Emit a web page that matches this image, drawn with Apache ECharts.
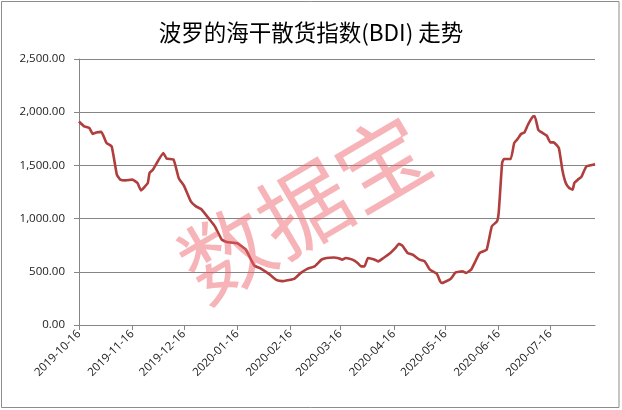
<!DOCTYPE html>
<html>
<head>
<meta charset="utf-8">
<script src="https://cdn.jsdelivr.net/npm/echarts@6/dist/echarts.min.js"></script>
<style>
html,body{margin:0;padding:0;background:#fff;}
#c{width:622px;height:410px;}
</style>
</head>
<body>
<div id="c"></div>
<script>
const startDate = '2019-10-16';
const endDate = '2020-08-11';
const yTicks = [0, 500, 1000, 1500, 2000, 2500];
const pointDates = [
'2019-10-16','2019-10-19','2019-10-22','2019-10-24','2019-10-26','2019-10-29',
'2019-11-01','2019-11-04','2019-11-07','2019-11-09','2019-11-12','2019-11-16','2019-11-19','2019-11-21','2019-11-25','2019-11-26','2019-11-28',
'2019-12-01','2019-12-04','2019-12-06','2019-12-10','2019-12-13','2019-12-16','2019-12-20','2019-12-23','2019-12-26','2019-12-31',
'2020-01-03','2020-01-07','2020-01-10','2020-01-16','2020-01-21','2020-01-24','2020-01-26','2020-01-29',
'2020-02-04','2020-02-08','2020-02-11','2020-02-16','2020-02-18','2020-02-22','2020-02-26',
'2020-03-01','2020-03-05','2020-03-08','2020-03-12','2020-03-15','2020-03-17','2020-03-19','2020-03-23','2020-03-26','2020-03-28','2020-03-30',
'2020-04-01','2020-04-05','2020-04-07','2020-04-10','2020-04-14','2020-04-17','2020-04-19','2020-04-21','2020-04-24','2020-04-27',
'2020-05-01','2020-05-04','2020-05-07','2020-05-11','2020-05-13','2020-05-14','2020-05-19','2020-05-22','2020-05-26','2020-05-28','2020-05-31',
'2020-06-02','2020-06-05','2020-06-09','2020-06-12','2020-06-15','2020-06-16','2020-06-18','2020-06-19','2020-06-23','2020-06-25','2020-06-27','2020-06-29',
'2020-07-01','2020-07-03','2020-07-06','2020-07-07','2020-07-09','2020-07-11','2020-07-14','2020-07-16','2020-07-18','2020-07-21','2020-07-23','2020-07-25','2020-07-27','2020-07-29','2020-07-30',
'2020-08-01','2020-08-03','2020-08-06','2020-08-10','2020-08-11'
];
const bdiValues = [
1913,1867,1851,1795,1810,1815,
1710,1679,1413,1366,1359,1366,1335,1265,1335,1429,1460,
1544,1617,1563,1554,1380,1309,1162,1115,1090,990,
927,802,780,768,708,614,557,536,
473,421,412,426,432,490,530,
551,614,630,635,628,614,630,614,583,551,551,
630,614,598,630,677,724,764,745,677,661,
614,598,520,482,410,395,432,494,504,489,520,
583,677,708,927,974,1053,1523,1560,1560,1710,1748,1795,
1810,1882,1961,1961,1836,1810,1779,1716,1716,1663,1460,1335,1288,1272,1335,
1366,1391,1491,1507,1513
];

function fmt(d){
  const y=d.getUTCFullYear(), m=String(d.getUTCMonth()+1).padStart(2,'0'), dd=String(d.getUTCDate()).padStart(2,'0');
  return y+'-'+m+'-'+dd;
}
const categories = [];
for (let t = Date.parse(startDate+'T00:00:00Z'); t <= Date.parse(endDate+'T00:00:00Z'); t += 86400000) {
  categories.push(fmt(new Date(t)));
}
const valueMap = {};
pointDates.forEach((d,i)=>{ valueMap[d] = bdiValues[i]; });
const seriesData = categories.map(d => (d in valueMap) ? valueMap[d] : null);
const isLabelDay = (idx, val) => String(val).slice(8) === '16';

const chart = echarts.init(document.getElementById('c'), null, {renderer:'canvas'});
chart.setOption({
  backgroundColor:'#fff',
  animation:false,
  title:{
    text:'波罗的海干散货指数(BDI) 走势',
    left:'center', top:16,
    textStyle:{fontFamily:'"Noto Sans CJK SC", sans-serif', fontSize:22.5, fontWeight:'normal', color:'#000'}
  },
  grid:{left:79, right:27, top:59, bottom:85, containLabel:false},
  xAxis:{
    type:'category',
    data:categories,
    boundaryGap:false,
    axisLine:{lineStyle:{color:'#868686', width:1}},
    axisTick:{show:true, interval:isLabelDay, length:5, lineStyle:{color:'#868686'}},
    axisLabel:{interval:isLabelDay, rotate:45, fontSize:11.5, color:'#1a1a1a', margin:7,
      fontFamily:'"Open Sans", "Liberation Sans", sans-serif'},
    splitLine:{show:false}
  },
  yAxis:{
    type:'value',
    min:yTicks[0], max:yTicks[yTicks.length-1], interval:500,
    axisLine:{show:true, lineStyle:{color:'#868686', width:1}},
    axisTick:{show:true, length:5, lineStyle:{color:'#868686'}},
    axisLabel:{fontSize:11.5, color:'#1a1a1a', margin:14,
      fontFamily:'"Open Sans", "Liberation Sans", sans-serif',
      formatter:v=>v.toLocaleString('en-US',{minimumFractionDigits:2, maximumFractionDigits:2})},
    splitLine:{show:true, lineStyle:{color:'#868686', width:1}}
  },
  series:[{
    type:'line',
    data:seriesData,
    connectNulls:true,
    showSymbol:false,
    symbol:'none',
    smooth:0.12,
    lineStyle:{color:'#b03e3d', width:2.6},
    z:3
  }],
  graphic:[
    {type:'rect', shape:{x:1.5, y:1.5, width:617.5, height:406}, style:{fill:null, stroke:'#8c8c8c', lineWidth:1}, z:0, silent:true},
    {type:'text', x:304, y:208, rotation:Math.PI*30.5/180,
      style:{text:'数据宝', fill:'rgba(235,95,105,0.47)', font:'normal 90px "Noto Sans CJK SC"', textAlign:'center', textVerticalAlign:'middle'},
      z:100, silent:true}
  ]
});
</script>
</body>
</html>
